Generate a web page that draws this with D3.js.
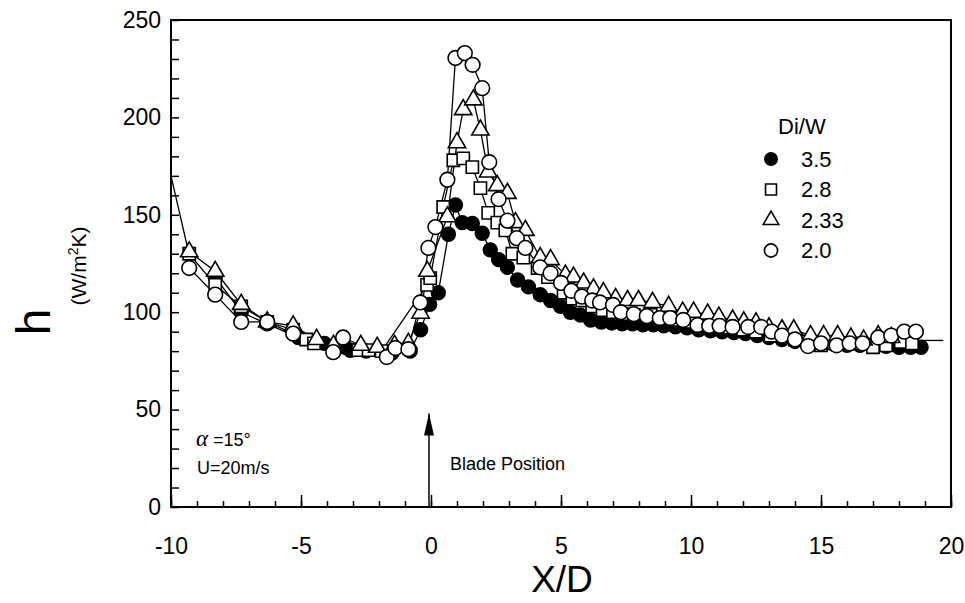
<!DOCTYPE html>
<html>
<head>
<meta charset="utf-8">
<script src="https://cdn.jsdelivr.net/npm/d3@7"></script>
<style>
  html, body { margin: 0; padding: 0; background: #fff; }
  svg { display: block; }
  text { font-family: "Liberation Sans", Arial, Helvetica, sans-serif; fill: #000; }
</style>
</head>
<body>
<svg id="chart" width="965" height="603"></svg>
<script>
// ---- data ----------------------------------------------------------
const xTicks = [-10, -5, 0, 5, 10, 15, 20];
const yTicks = [0, 50, 100, 150, 200, 250];
const legendTitle = "Di/W";
const seriesLabels = ["3.5", "2.8", "2.33", "2.0"];

// Di/W = 3.5 (filled circles)
const x35 = [-8.3, -7.3, -6.3, -5.1, -4.1, -3.3, -3.1, -2.5, -1.5, -0.8, -0.4, -0.05, 0.28, 0.67, 0.94, 1.2, 1.59, 1.97, 2.28, 2.6, 2.94, 3.33, 3.75, 4.2, 4.6, 4.98, 5.36, 5.75, 6.14, 6.55, 6.95, 7.35, 7.75, 8.15, 8.55, 8.95, 9.4, 9.85, 10.3, 10.75, 11.2, 11.65, 12.1, 12.55, 13.0, 13.5, 14.0, 14.5, 15.0, 15.5, 16.0, 16.5, 17.0, 17.5, 18.0, 18.45, 18.85];
const h35 = [118, 100, 94, 87, 84, 82, 80.5, 80, 79, 80, 91, 104, 110, 140, 155, 146, 145.5, 140.5, 132, 127, 123, 116.5, 113, 109, 106, 103, 100, 98.5, 96, 95, 94.5, 94, 94, 93.5, 93.5, 93, 92.5, 92, 91, 90.5, 90, 89.5, 89, 88, 87, 86, 85, 84.5, 84, 83.5, 83, 83, 82.5, 82.5, 82, 82, 82];

// Di/W = 2.8 (squares)
const x28 = [-9.3, -8.3, -7.3, -6.3, -5.3, -4.8, -4.5, -2.8, -2.4, -1.9, -0.15, -0.03, 0.47, 0.86, 1.24, 1.59, 1.9, 2.2, 2.55, 2.86, 3.13, 3.55, 4.1, 4.5, 5.1, 5.44, 5.82, 6.2, 6.6, 7.0, 7.4, 7.8, 8.45, 9.0, 9.5, 10.0, 10.5, 11.0, 11.5, 12.0, 12.5, 13.06, 13.56, 14.0, 14.5, 15.0, 15.5, 16.0, 16.5, 17.0, 17.5, 18.07, 18.5];
const h28 = [130, 114, 103, 95, 91, 86, 84, 80.5, 80.5, 80, 114, 117.5, 154, 178, 179, 174.5, 163.7, 151, 146, 142, 130, 128, 122.7, 118, 110, 107, 106, 103, 101, 100, 99, 98.6, 98.6, 97, 96, 95, 94, 93, 92, 91, 90, 88, 88, 86, 85, 83, 84, 84, 84, 82, 83, 84.7, 84];

// Di/W = 2.33 (triangles)
const x233 = [-9.3, -8.3, -7.3, -6.3, -5.3, -4.4, -3.75, -2.7, -2.07, -1.4, -0.87, -0.4, -0.14, 0.63, 1.0, 1.24, 1.63, 1.9, 2.2, 2.55, 2.94, 3.25, 3.63, 4.2, 4.6, 5.17, 5.48, 5.87, 6.25, 6.63, 7.1, 7.56, 7.98, 8.52, 9.14, 9.68, 10.1, 10.64, 11.07, 11.6, 12.03, 12.5, 13.0, 13.5, 13.95, 14.6, 15.1, 15.64, 16.15, 16.64, 17.2, 17.7];
const h233 = [131, 121, 104, 95, 93, 86, 83, 83, 82, 83, 84, 99.5, 121, 149, 187, 204, 209, 193.5, 172, 165, 161, 146, 142, 128, 127, 119, 118, 115, 112, 110, 107, 106, 106, 105, 103, 100, 100, 99, 97.5, 96, 95, 94.5, 92, 91, 91, 88, 88, 88, 86.7, 85.7, 88, 87];

// Di/W = 2.0 (open circles)
const x20 = [-9.3, -8.3, -7.3, -6.3, -5.3, -3.76, -3.38, -1.7, -1.37, -0.87, -0.41, -0.1, 0.17, 0.63, 0.94, 1.3, 1.6, 1.97, 2.24, 2.6, 2.94, 3.3, 3.63, 4.2, 4.6, 5.0, 5.4, 5.8, 6.2, 6.5, 7.0, 7.3, 7.8, 8.3, 8.8, 9.2, 9.7, 10.25, 10.7, 11.1, 11.6, 12.2, 12.7, 13.1, 13.5, 14.0, 14.5, 15.0, 15.6, 16.1, 16.6, 17.2, 17.7, 18.2, 18.65];
const h20 = [122.7, 109, 95, 95, 89, 79.5, 87, 77, 81.6, 81, 105, 133, 143.7, 168, 230.5, 233, 227, 215, 177, 158, 147, 138, 133, 123, 120, 115, 111, 108, 106, 105, 103.7, 100, 99, 98, 97, 97, 96, 93.4, 93, 93, 92.4, 92.4, 92.4, 90, 88, 86, 82.6, 84, 83, 84, 84, 87, 88, 90, 90];

// common fitted curve beyond the measured range
const trendLeftX = [-10, -9.3];
const trendLeftH = [170, 129.5];
const trendRightX = [18.5, 19.7];
const trendRightH = [85.5, 85.5];

// blade marker
const bladeX = 0;
const bladeTipH = 48;

// ---- layout --------------------------------------------------------
const svg = d3.select("#chart");
const margin = { left: 171, top: 20, right: 14, bottom: 96 };
const W = 965, H = 603;
const x = d3.scaleLinear().domain([-10, 20]).range([margin.left, W - margin.right]);
const y = d3.scaleLinear().domain([0, 250]).range([H - margin.bottom, margin.top]);

const g = svg.append("g");

// frame
g.append("rect")
  .attr("x", x(-10)).attr("y", y(250))
  .attr("width", x(20) - x(-10)).attr("height", y(0) - y(250))
  .attr("fill", "none").attr("stroke", "#000").attr("stroke-width", 2);

// x axis: inward ticks, major every 5, minor every 1
const xAxis = d3.axisBottom(x).tickValues(xTicks).tickSize(-12).tickPadding(31)
  .tickFormat(d => String(d));
const xAxisMinor = d3.axisBottom(x).tickValues(d3.range(-10, 21, 1)).tickSize(-6).tickFormat("");
g.append("g").attr("transform", `translate(0,${y(0)})`).call(xAxisMinor)
  .call(s => s.select(".domain").remove())
  .call(s => s.selectAll("line").attr("stroke", "#000").attr("stroke-width", 1.5));
g.append("g").attr("transform", `translate(0,${y(0)})`).call(xAxis)
  .call(s => s.select(".domain").remove())
  .call(s => s.selectAll("line").attr("stroke", "#000").attr("stroke-width", 1.5))
  .call(s => s.selectAll("text").attr("font-size", 23).attr("fill", "#000")
    .attr("font-family", "Liberation Sans, Arial, sans-serif"));

// y axis: inward ticks every 10, labels every 50
const yAxisMinor = d3.axisLeft(y).tickValues(d3.range(0, 251, 10)).tickSize(-8).tickFormat("");
const yAxis = d3.axisLeft(y).tickValues(yTicks).tickSize(0).tickPadding(10);
g.append("g").attr("transform", `translate(${x(-10)},0)`).call(yAxisMinor)
  .call(s => s.select(".domain").remove())
  .call(s => s.selectAll("line").attr("stroke", "#000").attr("stroke-width", 1.5));
g.append("g").attr("transform", `translate(${x(-10)},0)`).call(yAxis)
  .call(s => s.select(".domain").remove())
  .call(s => s.selectAll("text").attr("font-size", 23).attr("fill", "#000")
    .attr("font-family", "Liberation Sans, Arial, sans-serif"));

// axis titles
svg.append("text").attr("x", (x(-10) + x(20)) / 2 + 1).attr("y", 592)
  .attr("text-anchor", "middle").attr("font-size", 37).text("X/D");

svg.append("text")
  .attr("transform", `translate(50,322) rotate(-90)`)
  .attr("text-anchor", "middle").attr("font-size", 48).text("h");
const unitLabel = svg.append("text")
  .attr("transform", `translate(86,266) rotate(-90)`)
  .attr("text-anchor", "middle").attr("font-size", 21);
unitLabel.append("tspan").text("(W/m");
unitLabel.append("tspan").attr("font-size", 14).attr("dy", -8).text("2");
unitLabel.append("tspan").attr("dy", 8).text("K)");

// ---- lines ---------------------------------------------------------
const series = [
  { name: seriesLabels[0], xs: x35, hs: h35, shape: "filled" },
  { name: seriesLabels[1], xs: x28, hs: h28, shape: "square" },
  { name: seriesLabels[2], xs: x233, hs: h233, shape: "triangle" },
  { name: seriesLabels[3], xs: x20, hs: h20, shape: "circle" }
];

const line = d3.line().x(d => x(d[0])).y(d => y(d[1]));
const lineLayer = g.append("g").attr("fill", "none").attr("stroke", "#000").attr("stroke-width", 1.3);
series.forEach(s => {
  lineLayer.append("path").attr("d", line(d3.zip(s.xs, s.hs)));
});
lineLayer.append("path").attr("d", line(d3.zip(trendLeftX, trendLeftH)));
lineLayer.append("path").attr("d", line(d3.zip(trendRightX, trendRightH)));

// ---- markers -------------------------------------------------------
const symbolType = { filled: d3.symbolCircle, square: d3.symbolSquare, triangle: d3.symbolTriangle, circle: d3.symbolCircle };
const symbolSize = { filled: 150, square: 150, triangle: 130, circle: 170 };

function drawMarker(sel, shape, scale = 1) {
  sel.attr("d", d3.symbol().type(symbolType[shape]).size(symbolSize[shape] * scale)())
    .attr("fill", shape === "filled" ? "#000" : "#fff")
    .attr("stroke", "#000")
    .attr("stroke-width", 1.6);
}

series.forEach(s => {
  g.append("g").selectAll("path")
    .data(d3.zip(s.xs, s.hs))
    .join("path")
    .attr("transform", d => `translate(${x(d[0])},${y(d[1])})`)
    .call(drawMarker, s.shape);
});

// ---- legend --------------------------------------------------------
const legend = svg.append("g").attr("transform", "translate(771,0)");
legend.append("text").attr("x", 7).attr("y", 134).attr("font-size", 22).text(legendTitle);
series.forEach((s, i) => {
  const yy = 159 + i * 30.5;
  legend.append("path")
    .attr("transform", `translate(0,${yy})`)
    .call(drawMarker, s.shape, 0.8);
  legend.append("text").attr("x", 30).attr("y", yy).attr("dy", "0.36em")
    .attr("font-size", 22).text(s.name);
});

// ---- annotations ---------------------------------------------------
// blade position arrow
svg.append("line")
  .attr("x1", x(bladeX) - 2).attr("x2", x(bladeX) - 2)
  .attr("y1", y(0)).attr("y2", y(bladeTipH))
  .attr("stroke", "#000").attr("stroke-width", 1.5);
svg.append("path")
  .attr("d", `M${x(bladeX) - 2},${y(bladeTipH)} l-5,22 l10,0 Z`)
  .attr("fill", "#000");
svg.append("text").attr("x", 450).attr("y", 470).attr("font-size", 18).text("Blade Position");

// flow conditions
const cond = svg.append("text").attr("x", 196).attr("y", 446).attr("font-size", 18);
cond.append("tspan").attr("font-family", "Liberation Serif, serif").attr("font-style", "italic")
  .attr("font-size", 23).text("α");
cond.append("tspan").text(" =15°");
svg.append("text").attr("x", 197).attr("y", 474).attr("font-size", 18).text("U=20m/s");
</script>
</body>
</html>
